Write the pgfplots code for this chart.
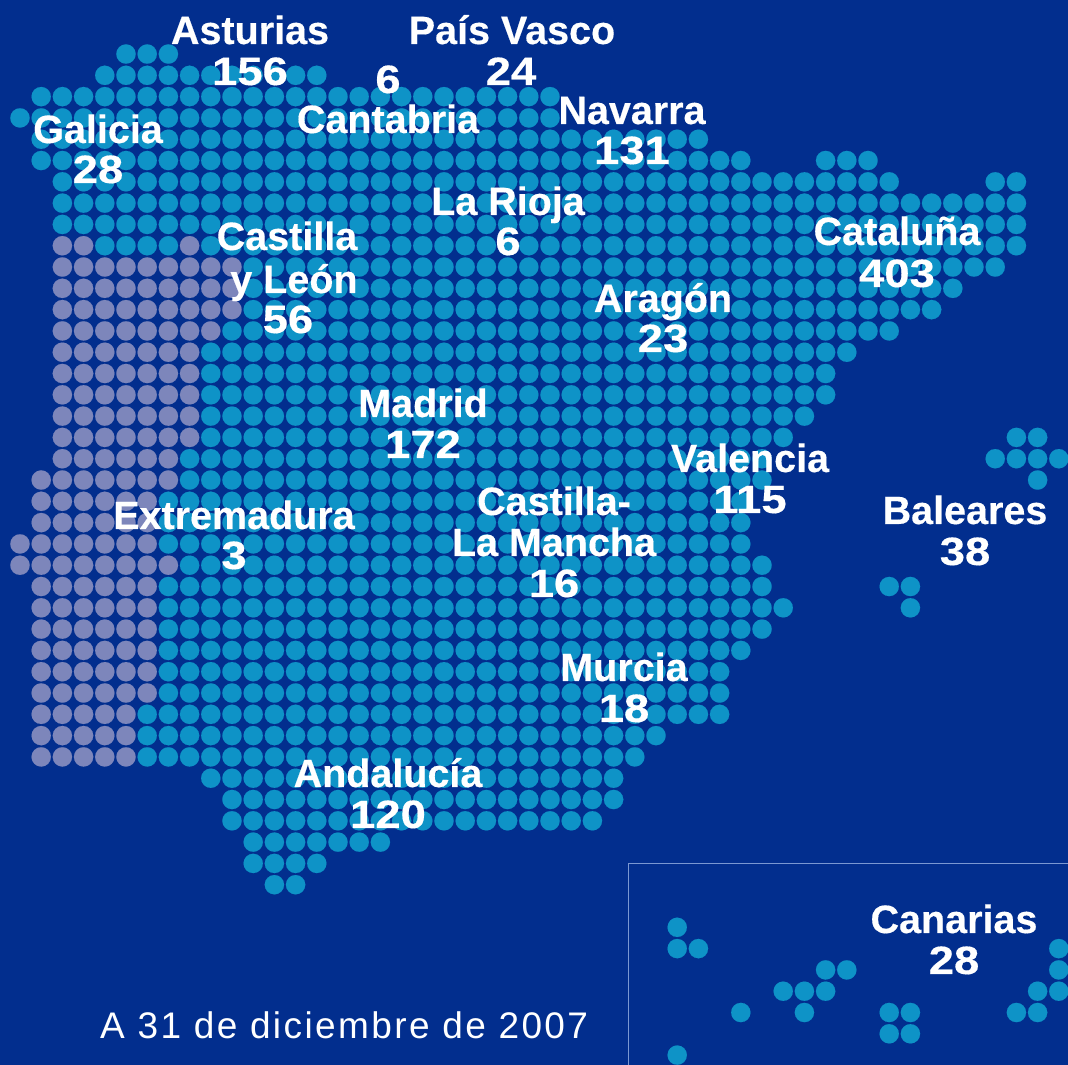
\documentclass[border=0pt]{standalone}
\usepackage{fontspec}
\setmainfont[BoldFeatures={FakeBold=0.35}]{Liberation Sans}
\usepackage{graphicx}
\usepackage{pgfplots}
\pgfplotsset{compat=1.18}
\definecolor{bgblue}{HTML}{022E8E}
\definecolor{dotblue}{HTML}{0E93C7}
\definecolor{dotgrey}{HTML}{7D86BB}
\definecolor{framecol}{HTML}{7B98D2}
% one dot per grid cell: column, row (row 0 is the top of the map)
\pgfplotstableread[row sep=\\]{
x y\\
2 9\\3 9\\8 9\\
2 10\\3 10\\4 10\\5 10\\6 10\\7 10\\8 10\\9 10\\10 10\\
2 11\\3 11\\4 11\\5 11\\6 11\\7 11\\8 11\\9 11\\10 11\\
2 12\\3 12\\4 12\\5 12\\6 12\\7 12\\8 12\\9 12\\10 12\\
2 13\\3 13\\4 13\\5 13\\6 13\\7 13\\8 13\\9 13\\
2 14\\3 14\\4 14\\5 14\\6 14\\7 14\\8 14\\
2 15\\3 15\\4 15\\5 15\\6 15\\7 15\\8 15\\
2 16\\3 16\\4 16\\5 16\\6 16\\7 16\\8 16\\
2 17\\3 17\\4 17\\5 17\\6 17\\7 17\\8 17\\
2 18\\3 18\\4 18\\5 18\\6 18\\7 18\\8 18\\
2 19\\3 19\\4 19\\5 19\\6 19\\7 19\\
1 20\\2 20\\3 20\\4 20\\5 20\\6 20\\7 20\\
1 21\\2 21\\3 21\\4 21\\5 21\\6 21\\
1 22\\2 22\\3 22\\4 22\\5 22\\6 22\\
0 23\\1 23\\2 23\\3 23\\4 23\\5 23\\6 23\\
0 24\\1 24\\2 24\\3 24\\4 24\\5 24\\6 24\\7 24\\
1 25\\2 25\\3 25\\4 25\\5 25\\6 25\\
1 26\\2 26\\3 26\\4 26\\5 26\\6 26\\
1 27\\2 27\\3 27\\4 27\\5 27\\6 27\\
1 28\\2 28\\3 28\\4 28\\5 28\\6 28\\
1 29\\2 29\\3 29\\4 29\\5 29\\6 29\\
1 30\\2 30\\3 30\\4 30\\5 30\\6 30\\
1 31\\2 31\\3 31\\4 31\\5 31\\
1 32\\2 32\\3 32\\4 32\\5 32\\
1 33\\2 33\\3 33\\4 33\\5 33\\
}\greydots
\pgfplotstableread[row sep=\\]{
x y\\
5 0\\6 0\\7 0\\
4 1\\5 1\\6 1\\7 1\\8 1\\9 1\\10 1\\11 1\\12 1\\13 1\\14 1\\
1 2\\2 2\\3 2\\4 2\\5 2\\6 2\\7 2\\8 2\\9 2\\10 2\\11 2\\12 2\\13 2\\14 2\\15 2\\16 2\\17 2\\18 2\\19 2\\20 2\\21 2\\22 2\\23 2\\24 2\\25 2\\
0 3\\1 3\\2 3\\3 3\\4 3\\5 3\\6 3\\7 3\\8 3\\9 3\\10 3\\11 3\\12 3\\13 3\\14 3\\15 3\\16 3\\17 3\\18 3\\19 3\\20 3\\21 3\\22 3\\23 3\\24 3\\25 3\\
1 4\\2 4\\3 4\\4 4\\5 4\\6 4\\7 4\\8 4\\9 4\\10 4\\11 4\\12 4\\13 4\\14 4\\15 4\\16 4\\17 4\\18 4\\19 4\\20 4\\21 4\\22 4\\23 4\\24 4\\25 4\\26 4\\27 4\\28 4\\29 4\\30 4\\31 4\\32 4\\
1 5\\2 5\\3 5\\4 5\\5 5\\6 5\\7 5\\8 5\\9 5\\10 5\\11 5\\12 5\\13 5\\14 5\\15 5\\16 5\\17 5\\18 5\\19 5\\20 5\\21 5\\22 5\\23 5\\24 5\\25 5\\26 5\\27 5\\28 5\\29 5\\30 5\\31 5\\32 5\\33 5\\34 5\\38 5\\39 5\\40 5\\
2 6\\3 6\\4 6\\5 6\\6 6\\7 6\\8 6\\9 6\\10 6\\11 6\\12 6\\13 6\\14 6\\15 6\\16 6\\17 6\\18 6\\19 6\\20 6\\21 6\\22 6\\23 6\\24 6\\25 6\\26 6\\27 6\\28 6\\29 6\\30 6\\31 6\\32 6\\33 6\\34 6\\35 6\\36 6\\37 6\\38 6\\39 6\\40 6\\41 6\\46 6\\47 6\\
2 7\\3 7\\4 7\\5 7\\6 7\\7 7\\8 7\\9 7\\10 7\\11 7\\12 7\\13 7\\14 7\\15 7\\16 7\\17 7\\18 7\\19 7\\20 7\\21 7\\22 7\\23 7\\24 7\\25 7\\26 7\\27 7\\28 7\\29 7\\30 7\\31 7\\32 7\\33 7\\34 7\\35 7\\36 7\\37 7\\38 7\\39 7\\40 7\\41 7\\42 7\\43 7\\44 7\\45 7\\46 7\\47 7\\
2 8\\3 8\\4 8\\5 8\\6 8\\7 8\\8 8\\9 8\\10 8\\11 8\\12 8\\13 8\\14 8\\15 8\\16 8\\17 8\\18 8\\19 8\\20 8\\21 8\\22 8\\23 8\\24 8\\25 8\\26 8\\27 8\\28 8\\29 8\\30 8\\31 8\\32 8\\33 8\\34 8\\35 8\\36 8\\37 8\\38 8\\39 8\\40 8\\41 8\\42 8\\43 8\\44 8\\45 8\\46 8\\47 8\\
4 9\\5 9\\6 9\\7 9\\9 9\\10 9\\11 9\\12 9\\13 9\\14 9\\15 9\\16 9\\17 9\\18 9\\19 9\\20 9\\21 9\\22 9\\23 9\\24 9\\25 9\\26 9\\27 9\\28 9\\29 9\\30 9\\31 9\\32 9\\33 9\\34 9\\35 9\\36 9\\37 9\\38 9\\39 9\\40 9\\41 9\\42 9\\43 9\\44 9\\45 9\\46 9\\47 9\\
11 10\\12 10\\13 10\\14 10\\15 10\\16 10\\17 10\\18 10\\19 10\\20 10\\21 10\\22 10\\23 10\\24 10\\25 10\\26 10\\27 10\\28 10\\29 10\\30 10\\31 10\\32 10\\33 10\\34 10\\35 10\\36 10\\37 10\\38 10\\39 10\\40 10\\41 10\\42 10\\43 10\\44 10\\45 10\\46 10\\
11 11\\12 11\\13 11\\14 11\\15 11\\16 11\\17 11\\18 11\\19 11\\20 11\\21 11\\22 11\\23 11\\24 11\\25 11\\26 11\\27 11\\28 11\\29 11\\30 11\\31 11\\32 11\\33 11\\34 11\\35 11\\36 11\\37 11\\38 11\\39 11\\40 11\\41 11\\42 11\\43 11\\44 11\\
11 12\\12 12\\13 12\\14 12\\15 12\\16 12\\17 12\\18 12\\19 12\\20 12\\21 12\\22 12\\23 12\\24 12\\25 12\\26 12\\27 12\\28 12\\29 12\\30 12\\31 12\\32 12\\33 12\\34 12\\35 12\\36 12\\37 12\\38 12\\39 12\\40 12\\41 12\\42 12\\43 12\\
10 13\\11 13\\12 13\\13 13\\14 13\\15 13\\16 13\\17 13\\18 13\\19 13\\20 13\\21 13\\22 13\\23 13\\24 13\\25 13\\26 13\\27 13\\28 13\\29 13\\30 13\\31 13\\32 13\\33 13\\34 13\\35 13\\36 13\\37 13\\38 13\\39 13\\40 13\\41 13\\
9 14\\10 14\\11 14\\12 14\\13 14\\14 14\\15 14\\16 14\\17 14\\18 14\\19 14\\20 14\\21 14\\22 14\\23 14\\24 14\\25 14\\26 14\\27 14\\28 14\\29 14\\30 14\\31 14\\32 14\\33 14\\34 14\\35 14\\36 14\\37 14\\38 14\\39 14\\
9 15\\10 15\\11 15\\12 15\\13 15\\14 15\\15 15\\16 15\\17 15\\18 15\\19 15\\20 15\\21 15\\22 15\\23 15\\24 15\\25 15\\26 15\\27 15\\28 15\\29 15\\30 15\\31 15\\32 15\\33 15\\34 15\\35 15\\36 15\\37 15\\38 15\\
9 16\\10 16\\11 16\\12 16\\13 16\\14 16\\15 16\\16 16\\17 16\\18 16\\19 16\\20 16\\21 16\\22 16\\23 16\\24 16\\25 16\\26 16\\27 16\\28 16\\29 16\\30 16\\31 16\\32 16\\33 16\\34 16\\35 16\\36 16\\37 16\\38 16\\
9 17\\10 17\\11 17\\12 17\\13 17\\14 17\\15 17\\16 17\\17 17\\18 17\\19 17\\20 17\\21 17\\22 17\\23 17\\24 17\\25 17\\26 17\\27 17\\28 17\\29 17\\30 17\\31 17\\32 17\\33 17\\34 17\\35 17\\36 17\\37 17\\
9 18\\10 18\\11 18\\12 18\\13 18\\14 18\\15 18\\16 18\\17 18\\18 18\\19 18\\20 18\\21 18\\22 18\\23 18\\24 18\\25 18\\26 18\\27 18\\28 18\\29 18\\30 18\\31 18\\32 18\\33 18\\34 18\\35 18\\36 18\\47 18\\48 18\\
8 19\\9 19\\10 19\\11 19\\12 19\\13 19\\14 19\\15 19\\16 19\\17 19\\18 19\\19 19\\20 19\\21 19\\22 19\\23 19\\24 19\\25 19\\26 19\\27 19\\28 19\\29 19\\30 19\\31 19\\32 19\\33 19\\34 19\\35 19\\46 19\\47 19\\48 19\\49 19\\
8 20\\9 20\\10 20\\11 20\\12 20\\13 20\\14 20\\15 20\\16 20\\17 20\\18 20\\19 20\\20 20\\21 20\\22 20\\23 20\\24 20\\25 20\\26 20\\27 20\\28 20\\29 20\\30 20\\31 20\\32 20\\33 20\\34 20\\35 20\\48 20\\
7 21\\8 21\\9 21\\10 21\\11 21\\12 21\\13 21\\14 21\\15 21\\16 21\\17 21\\18 21\\19 21\\20 21\\21 21\\22 21\\23 21\\24 21\\25 21\\26 21\\27 21\\28 21\\29 21\\30 21\\31 21\\32 21\\33 21\\34 21\\
7 22\\8 22\\9 22\\10 22\\11 22\\12 22\\13 22\\14 22\\15 22\\16 22\\17 22\\18 22\\19 22\\20 22\\21 22\\22 22\\23 22\\24 22\\25 22\\26 22\\27 22\\28 22\\29 22\\30 22\\31 22\\32 22\\33 22\\34 22\\
7 23\\8 23\\9 23\\10 23\\11 23\\12 23\\13 23\\14 23\\15 23\\16 23\\17 23\\18 23\\19 23\\20 23\\21 23\\22 23\\23 23\\24 23\\25 23\\26 23\\27 23\\28 23\\29 23\\30 23\\31 23\\32 23\\33 23\\34 23\\
8 24\\9 24\\10 24\\11 24\\12 24\\13 24\\14 24\\15 24\\16 24\\17 24\\18 24\\19 24\\20 24\\21 24\\22 24\\23 24\\24 24\\25 24\\26 24\\27 24\\28 24\\29 24\\30 24\\31 24\\32 24\\33 24\\34 24\\35 24\\
7 25\\8 25\\9 25\\10 25\\11 25\\12 25\\13 25\\14 25\\15 25\\16 25\\17 25\\18 25\\19 25\\20 25\\21 25\\22 25\\23 25\\24 25\\25 25\\26 25\\27 25\\28 25\\29 25\\30 25\\31 25\\32 25\\33 25\\34 25\\35 25\\41 25\\42 25\\
7 26\\8 26\\9 26\\10 26\\11 26\\12 26\\13 26\\14 26\\15 26\\16 26\\17 26\\18 26\\19 26\\20 26\\21 26\\22 26\\23 26\\24 26\\25 26\\26 26\\27 26\\28 26\\29 26\\30 26\\31 26\\32 26\\33 26\\34 26\\35 26\\36 26\\42 26\\
7 27\\8 27\\9 27\\10 27\\11 27\\12 27\\13 27\\14 27\\15 27\\16 27\\17 27\\18 27\\19 27\\20 27\\21 27\\22 27\\23 27\\24 27\\25 27\\26 27\\27 27\\28 27\\29 27\\30 27\\31 27\\32 27\\33 27\\34 27\\35 27\\
7 28\\8 28\\9 28\\10 28\\11 28\\12 28\\13 28\\14 28\\15 28\\16 28\\17 28\\18 28\\19 28\\20 28\\21 28\\22 28\\23 28\\24 28\\25 28\\26 28\\27 28\\28 28\\29 28\\30 28\\31 28\\32 28\\33 28\\34 28\\
7 29\\8 29\\9 29\\10 29\\11 29\\12 29\\13 29\\14 29\\15 29\\16 29\\17 29\\18 29\\19 29\\20 29\\21 29\\22 29\\23 29\\24 29\\25 29\\26 29\\27 29\\28 29\\29 29\\30 29\\31 29\\32 29\\33 29\\
7 30\\8 30\\9 30\\10 30\\11 30\\12 30\\13 30\\14 30\\15 30\\16 30\\17 30\\18 30\\19 30\\20 30\\21 30\\22 30\\23 30\\24 30\\25 30\\26 30\\27 30\\28 30\\29 30\\30 30\\31 30\\32 30\\33 30\\
6 31\\7 31\\8 31\\9 31\\10 31\\11 31\\12 31\\13 31\\14 31\\15 31\\16 31\\17 31\\18 31\\19 31\\20 31\\21 31\\22 31\\23 31\\24 31\\25 31\\26 31\\27 31\\28 31\\29 31\\30 31\\31 31\\32 31\\33 31\\
6 32\\7 32\\8 32\\9 32\\10 32\\11 32\\12 32\\13 32\\14 32\\15 32\\16 32\\17 32\\18 32\\19 32\\20 32\\21 32\\22 32\\23 32\\24 32\\25 32\\26 32\\27 32\\28 32\\29 32\\30 32\\
6 33\\7 33\\8 33\\9 33\\10 33\\11 33\\12 33\\13 33\\14 33\\15 33\\16 33\\17 33\\18 33\\19 33\\20 33\\21 33\\22 33\\23 33\\24 33\\25 33\\26 33\\27 33\\28 33\\29 33\\
9 34\\10 34\\11 34\\12 34\\13 34\\14 34\\15 34\\16 34\\17 34\\18 34\\19 34\\20 34\\21 34\\22 34\\23 34\\24 34\\25 34\\26 34\\27 34\\28 34\\
10 35\\11 35\\12 35\\13 35\\14 35\\15 35\\16 35\\17 35\\18 35\\19 35\\20 35\\21 35\\22 35\\23 35\\24 35\\25 35\\26 35\\27 35\\28 35\\
10 36\\11 36\\12 36\\13 36\\14 36\\15 36\\16 36\\17 36\\18 36\\19 36\\20 36\\21 36\\22 36\\23 36\\24 36\\25 36\\26 36\\27 36\\
11 37\\12 37\\13 37\\14 37\\15 37\\16 37\\17 37\\
11 38\\12 38\\13 38\\14 38\\
12 39\\13 39\\
31 41\\
31 42\\32 42\\49 42\\
38 43\\39 43\\49 43\\
36 44\\37 44\\38 44\\48 44\\49 44\\
34 45\\37 45\\41 45\\42 45\\47 45\\48 45\\
41 46\\42 46\\
31 47\\
}\bluedots
\tikzset{
  lbl/.style={text=white, anchor=base, inner sep=0pt, font=\fontsize{39.5bp}{39.5bp}\selectfont\bfseries},
}
% centre x and baseline y in pixels of the reference
\newcommand{\lab}[3]{\node[lbl] at (#1bp,{1065bp-#2bp}) {#3};}
% the numbers run wider than Liberation's digits
\newcommand{\num}[3]{\node[lbl] at (#1bp,{1065bp-#2bp}) {\scalebox{1.15}[1]{#3}};}
\begin{document}
\begin{tikzpicture}
\useasboundingbox (0,0) rectangle (1068bp,1065bp);
\begin{axis}[
    scale only axis,
    width=1068bp, height=1065bp,
    xmin=-0.943, xmax=49.434,
    ymin=-2.535, ymax=47.465,
    y dir=reverse,
    xtick=\empty, ytick=\empty,
    axis line style={draw=none},
    axis background/.style={fill=bgblue},
]
\addplot[only marks, mark=*, mark size=9.7pt, mark options={line width=0.1pt, draw=dotgrey, fill=dotgrey}] table {\greydots};
\addplot[only marks, mark=*, mark size=9.7pt, mark options={line width=0.1pt, draw=dotblue, fill=dotblue}] table {\bluedots};
\end{axis}
\draw[framecol, line width=1.5bp] (628.5bp,0) |- (1068bp,{1065bp-863.5bp});
\lab{250}{44}{Asturias}
\num{250}{85}{156}
\lab{512}{44}{País Vasco}
\num{511}{85}{24}
\num{388}{93}{6}
\lab{388}{133}{Cantabria}
\lab{632}{124}{Navarra}
\num{632}{164}{131}
\lab{98}{143}{Galicia}
\num{98}{183}{28}
\lab{508}{215}{La Rioja}
\num{508}{255}{6}
\lab{287}{250}{Castilla}
\lab{294}{293}{y León}
\num{288}{333}{56}
\lab{897}{245}{Cataluña}
\num{897}{287}{403}
\lab{663}{312}{Aragón}
\num{663}{352}{23}
\lab{423}{417}{Madrid}
\num{423}{458}{172}
\lab{750}{472}{Valencia}
\num{750}{513}{115}
\lab{554}{515}{Castilla-}
\lab{554}{556}{La Mancha}
\num{554}{597}{16}
\lab{234}{529}{Extremadura}
\num{234}{569}{3}
\lab{965}{524}{Baleares}
\num{965}{565}{38}
\lab{624}{681}{Murcia}
\num{624}{722}{18}
\lab{388}{787}{Andalucía}
\num{388}{828}{120}
\lab{954}{933}{Canarias}
\num{954}{974}{28}
\node[text=white, anchor=base west, inner sep=0pt, font=\fontsize{37bp}{37bp}\selectfont\addfontfeature{LetterSpace=6.5}] at (100bp,{1065bp-1038bp}) {A 31 de diciembre de 2007};
\end{tikzpicture}
\end{document}
